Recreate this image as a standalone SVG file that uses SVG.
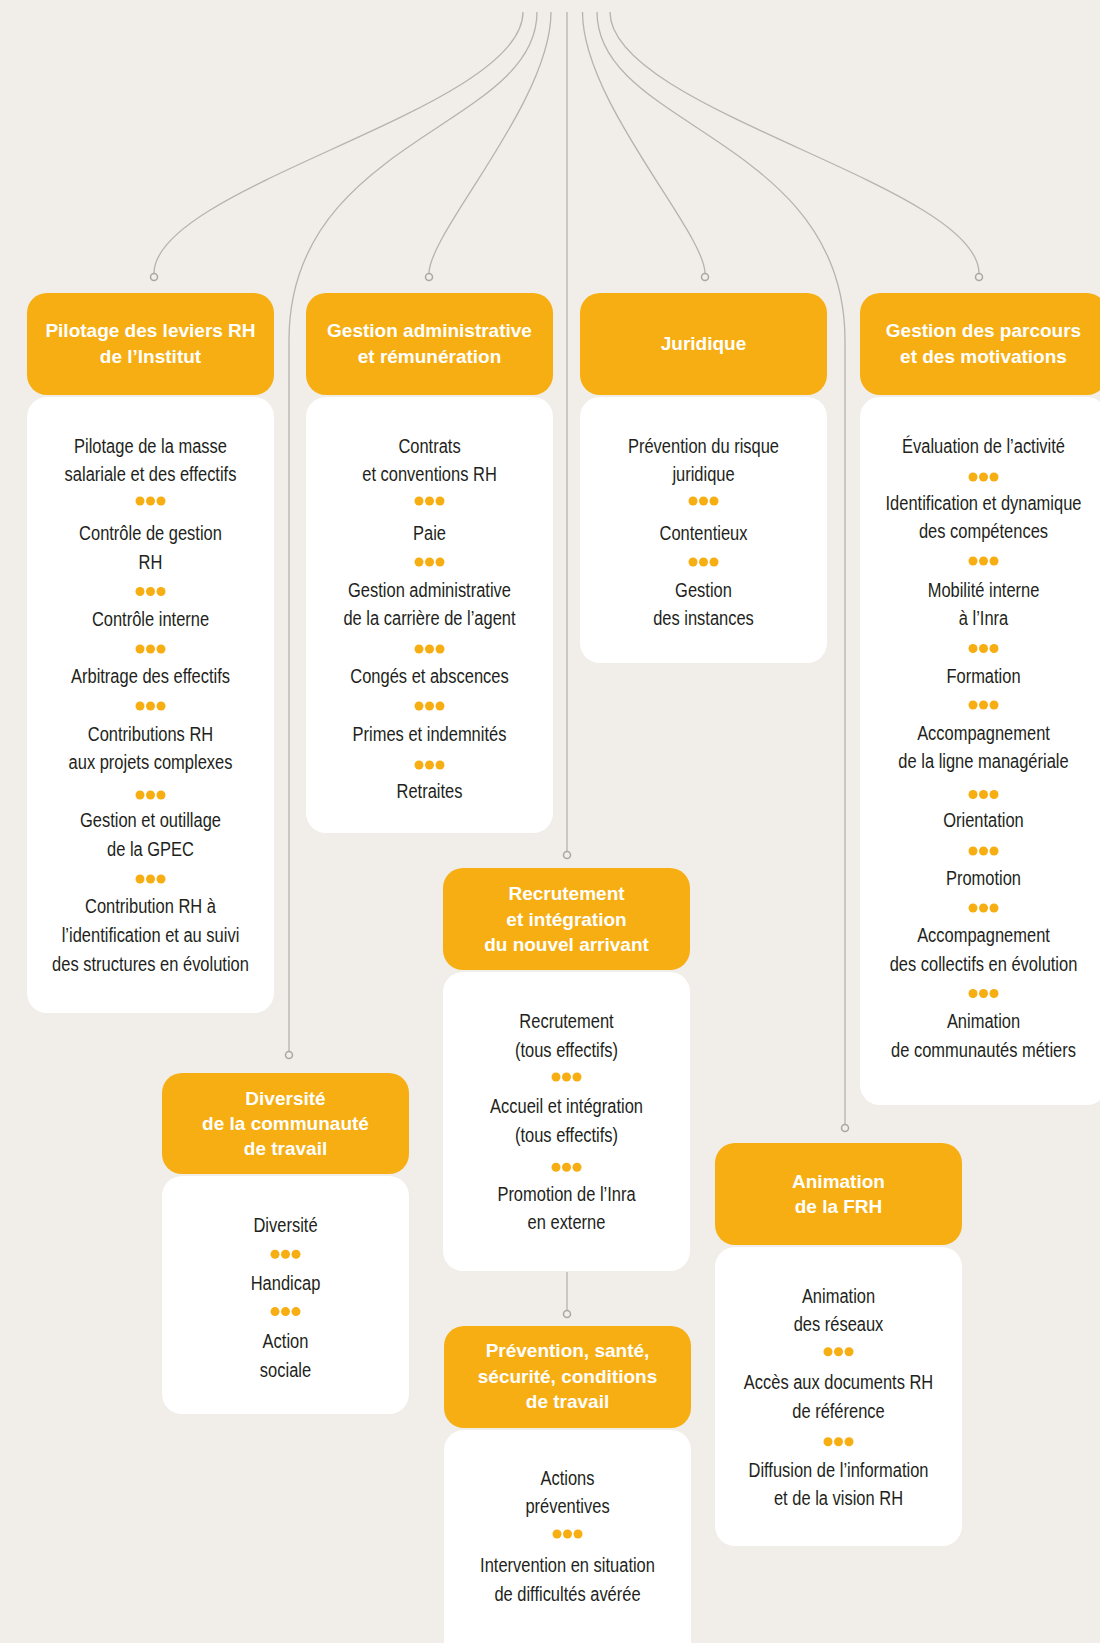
<svg xmlns="http://www.w3.org/2000/svg" xmlns:xlink="http://www.w3.org/1999/xlink" width="1100" height="1643" viewBox="0 0 1100 1643">
<style>
.hd{fill:#f6ae13}
.bd{fill:#ffffff}
.ht{fill:#ffffff;font-family:"Liberation Sans",Arial,sans-serif;font-weight:bold;font-size:19px;text-anchor:middle}
.bt{fill:#231f20;font-family:"Liberation Sans",Arial,sans-serif;font-size:21px;text-anchor:middle}
.ln{fill:none;stroke:#b5b3b0;stroke-width:1.3}
.ring{fill:#f1eee9;stroke:#a9a7a4;stroke-width:1.5}
</style>
<defs>
<g id="dots" fill="#f6ae13"><circle cx="-10.5" cy="0" r="4.5"/><circle cx="0" cy="0" r="4.5"/><circle cx="10.5" cy="0" r="4.5"/></g>
</defs>
<rect x="0" y="0" width="1100" height="1643" fill="#f1eee9"/>

<g id="connectors">
<path class="ln" d="M523,12 C523,110 154,185 154,273.5"/>
<path class="ln" d="M537,12 C537,128 289,138 289,340 L289,1051.5"/>
<path class="ln" d="M551,12 C551,102 429,232 429,273.5"/>
<path class="ln" d="M567,12 L567,851.5"/>
<path class="ln" d="M582.5,12 C582.5,102 705,232 705,273.5"/>
<path class="ln" d="M597,12 C597,128 845,138 845,340 L845,1124.5"/>
<path class="ln" d="M610,12 C610,110 979,185 979,273.5"/>
<path class="ln" d="M567,1272 L567,1310.5"/>
<circle class="ring" cx="154" cy="277" r="3.5"/>
<circle class="ring" cx="429" cy="277" r="3.5"/>
<circle class="ring" cx="705" cy="277" r="3.5"/>
<circle class="ring" cx="979" cy="277" r="3.5"/>
<circle class="ring" cx="289" cy="1055" r="3.5"/>
<circle class="ring" cx="567" cy="855" r="3.5"/>
<circle class="ring" cx="845" cy="1128" r="3.5"/>
<circle class="ring" cx="567" cy="1314" r="3.5"/>
</g>

<g id="pilotage">
<rect class="hd" x="27" y="293" width="247" height="102" rx="20"/>
<rect class="bd" x="27" y="397" width="247" height="616" rx="20"/>
<text class="ht" x="150.5" y="337">Pilotage des leviers RH</text>
<text class="ht" x="150.5" y="362.5">de l’Institut</text>
<g transform="translate(150.5 0) scale(0.785 1)">
<text class="bt" y="452.7">Pilotage de la masse</text>
<text class="bt" y="481.3">salariale et des effectifs</text>
<text class="bt" y="540">Contrôle de gestion</text>
<text class="bt" y="568.7">RH</text>
<text class="bt" y="626">Contrôle interne</text>
<text class="bt" y="683.3">Arbitrage des effectifs</text>
<text class="bt" y="741">Contributions RH</text>
<text class="bt" y="769.5">aux projets complexes</text>
<text class="bt" y="827.5">Gestion et outillage</text>
<text class="bt" y="856">de la GPEC</text>
<text class="bt" y="913.5">Contribution RH à</text>
<text class="bt" y="942.5">l’identification et au suivi</text>
<text class="bt" y="971.5">des structures en évolution</text>
</g>
<use xlink:href="#dots" x="150.5" y="501"/>
<use xlink:href="#dots" x="150.5" y="591.5"/>
<use xlink:href="#dots" x="150.5" y="649"/>
<use xlink:href="#dots" x="150.5" y="706"/>
<use xlink:href="#dots" x="150.5" y="795"/>
<use xlink:href="#dots" x="150.5" y="879"/>
</g>

<g id="gestion-administrative">
<rect class="hd" x="306" y="293" width="247" height="102" rx="20"/>
<rect class="bd" x="306" y="397" width="247" height="436" rx="20"/>
<text class="ht" x="429.5" y="337">Gestion administrative</text>
<text class="ht" x="429.5" y="362.5">et rémunération</text>
<g transform="translate(429.5 0) scale(0.785 1)">
<text class="bt" y="452.7">Contrats</text>
<text class="bt" y="481.3">et conventions RH</text>
<text class="bt" y="540">Paie</text>
<text class="bt" y="596.7">Gestion administrative</text>
<text class="bt" y="625">de la carrière de l’agent</text>
<text class="bt" y="683.3">Congés et abscences</text>
<text class="bt" y="741">Primes et indemnités</text>
<text class="bt" y="798.5">Retraites</text>
</g>
<use xlink:href="#dots" x="429.5" y="501"/>
<use xlink:href="#dots" x="429.5" y="562"/>
<use xlink:href="#dots" x="429.5" y="649"/>
<use xlink:href="#dots" x="429.5" y="706"/>
<use xlink:href="#dots" x="429.5" y="765"/>
</g>

<g id="juridique">
<rect class="hd" x="580" y="293" width="247" height="102" rx="20"/>
<rect class="bd" x="580" y="397" width="247" height="266" rx="20"/>
<text class="ht" x="703.5" y="350">Juridique</text>
<g transform="translate(703.5 0) scale(0.785 1)">
<text class="bt" y="452.7">Prévention du risque</text>
<text class="bt" y="481.3">juridique</text>
<text class="bt" y="540">Contentieux</text>
<text class="bt" y="596.7">Gestion</text>
<text class="bt" y="625">des instances</text>
</g>
<use xlink:href="#dots" x="703.5" y="501"/>
<use xlink:href="#dots" x="703.5" y="562"/>
</g>

<g id="gestion-parcours">
<rect class="hd" x="860" y="293" width="247" height="102" rx="20"/>
<rect class="bd" x="860" y="397" width="247" height="708" rx="20"/>
<text class="ht" x="983.5" y="337">Gestion des parcours</text>
<text class="ht" x="983.5" y="362.5">et des motivations</text>
<g transform="translate(983.5 0) scale(0.785 1)">
<text class="bt" y="453.3">Évaluation de l’activité</text>
<text class="bt" y="510">Identification et dynamique</text>
<text class="bt" y="538.3">des compétences</text>
<text class="bt" y="596.7">Mobilité interne</text>
<text class="bt" y="625">à l’Inra</text>
<text class="bt" y="683.3">Formation</text>
<text class="bt" y="740">Accompagnement</text>
<text class="bt" y="768.3">de la ligne managériale</text>
<text class="bt" y="827.3">Orientation</text>
<text class="bt" y="885">Promotion</text>
<text class="bt" y="941.7">Accompagnement</text>
<text class="bt" y="970.7">des collectifs en évolution</text>
<text class="bt" y="1028.3">Animation</text>
<text class="bt" y="1056.7">de communautés métiers</text>
</g>
<use xlink:href="#dots" x="983.5" y="477"/>
<use xlink:href="#dots" x="983.5" y="561"/>
<use xlink:href="#dots" x="983.5" y="648.5"/>
<use xlink:href="#dots" x="983.5" y="705"/>
<use xlink:href="#dots" x="983.5" y="794.5"/>
<use xlink:href="#dots" x="983.5" y="851"/>
<use xlink:href="#dots" x="983.5" y="908"/>
<use xlink:href="#dots" x="983.5" y="993.5"/>
</g>

<g id="recrutement">
<rect class="hd" x="443" y="868" width="247" height="102" rx="20"/>
<rect class="bd" x="443" y="972" width="247" height="299" rx="20"/>
<text class="ht" x="566.5" y="900">Recrutement</text>
<text class="ht" x="566.5" y="925.5">et intégration</text>
<text class="ht" x="566.5" y="951">du nouvel arrivant</text>
<g transform="translate(566.5 0) scale(0.785 1)">
<text class="bt" y="1028.3">Recrutement</text>
<text class="bt" y="1056.7">(tous effectifs)</text>
<text class="bt" y="1113.3">Accueil et intégration</text>
<text class="bt" y="1142.3">(tous effectifs)</text>
<text class="bt" y="1200.7">Promotion de l’Inra</text>
<text class="bt" y="1229.3">en externe</text>
</g>
<use xlink:href="#dots" x="566.5" y="1077"/>
<use xlink:href="#dots" x="566.5" y="1167.3"/>
</g>

<g id="diversite">
<rect class="hd" x="162" y="1073" width="247" height="101" rx="20"/>
<rect class="bd" x="162" y="1176" width="247" height="238" rx="20"/>
<text class="ht" x="285.5" y="1105">Diversité</text>
<text class="ht" x="285.5" y="1130">de la communauté</text>
<text class="ht" x="285.5" y="1155">de travail</text>
<g transform="translate(285.5 0) scale(0.785 1)">
<text class="bt" y="1231.7">Diversité</text>
<text class="bt" y="1289.8">Handicap</text>
<text class="bt" y="1348.5">Action</text>
<text class="bt" y="1376.7">sociale</text>
</g>
<use xlink:href="#dots" x="285.5" y="1254.3"/>
<use xlink:href="#dots" x="285.5" y="1311.6"/>
</g>

<g id="prevention-sante">
<rect class="hd" x="444" y="1326" width="247" height="102" rx="20"/>
<rect class="bd" x="444" y="1430" width="247" height="240" rx="20"/>
<text class="ht" x="567.5" y="1357">Prévention, santé,</text>
<text class="ht" x="567.5" y="1382.5">sécurité, conditions</text>
<text class="ht" x="567.5" y="1408">de travail</text>
<g transform="translate(567.5 0) scale(0.785 1)">
<text class="bt" y="1485">Actions</text>
<text class="bt" y="1513.3">préventives</text>
<text class="bt" y="1571.7">Intervention en situation</text>
<text class="bt" y="1600.7">de difficultés avérée</text>
</g>
<use xlink:href="#dots" x="567.5" y="1534"/>
</g>

<g id="animation-frh">
<rect class="hd" x="715" y="1143" width="247" height="102" rx="20"/>
<rect class="bd" x="715" y="1247" width="247" height="299" rx="20"/>
<text class="ht" x="838.5" y="1188">Animation</text>
<text class="ht" x="838.5" y="1213">de la FRH</text>
<g transform="translate(838.5 0) scale(0.785 1)">
<text class="bt" y="1302.7">Animation</text>
<text class="bt" y="1330.7">des réseaux</text>
<text class="bt" y="1389.3">Accès aux documents RH</text>
<text class="bt" y="1418.3">de référence</text>
<text class="bt" y="1476.7">Diffusion de l’information</text>
<text class="bt" y="1505">et de la vision RH</text>
</g>
<use xlink:href="#dots" x="838.5" y="1351.7"/>
<use xlink:href="#dots" x="838.5" y="1441.7"/>
</g>
</svg>
